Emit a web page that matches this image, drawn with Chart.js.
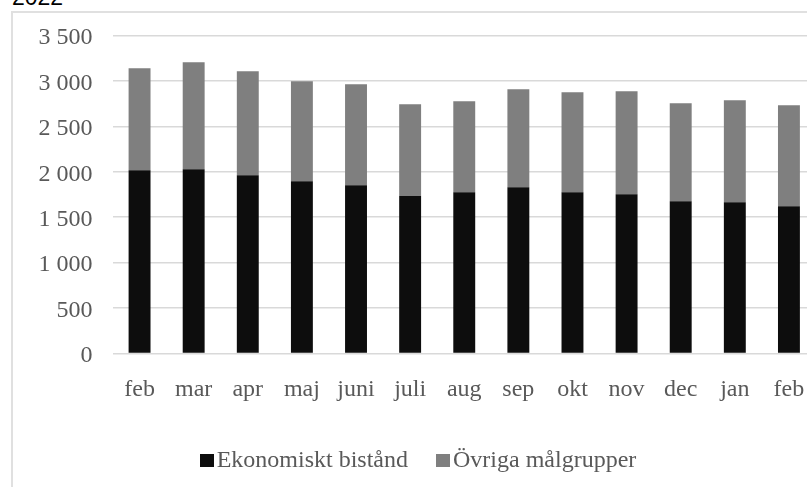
<!DOCTYPE html>
<html>
<head>
<meta charset="utf-8">
<script src="https://cdn.jsdelivr.net/npm/chart.js@4/dist/chart.umd.min.js"></script>
<style>
  html, body { margin: 0; padding: 0; background: #fff; overflow: hidden; width: 807px; height: 487px; }
  #frame { position: absolute; left: 11px; top: 11px; width: 900px; height: 600px; border-left: 2px solid #e0e0e0; border-top: 2px solid #e0e0e0; box-sizing: border-box; }
  #title { position: absolute; left: 12px; top: -14.5px; font-family: "Liberation Sans", Arial, sans-serif; font-size: 23px; line-height: 23px; color: #000; white-space: nowrap; }
  #wrap { position: absolute; left: 0; top: 0; width: 836px; height: 487px; }
  #legend { position: absolute; left: 0; top: 447px; width: 836px; text-align: center; font-family: "Liberation Serif", "Times New Roman", serif; font-size: 24px; line-height: 24px; color: #595959; white-space: nowrap; }
  .item { display: inline-block; margin: 0 14px; }
  .box { display: inline-block; width: 14px; height: 13px; margin-right: 3px; vertical-align: baseline; }
</style>
</head>
<body>
<div id="frame"></div>
<div id="title">2022</div>
<div id="wrap"><canvas id="c" width="836" height="487"></canvas></div>
<div id="legend"></div>
<script>
const categories = ["feb", "mar", "apr", "maj", "juni", "juli", "aug", "sep", "okt", "nov", "dec", "jan", "feb"];
const ekonomisktBistand = [2017, 2028, 1962, 1896, 1852, 1734, 1775, 1830, 1775, 1753, 1676, 1665, 1621];
const ovrigaMalgrupper = [1122, 1177, 1144, 1100, 1111, 1009, 1001, 1078, 1100, 1133, 1078, 1122, 1111];
const seriesNames = ["Ekonomiskt bistånd", "Övriga målgrupper"];
const seriesColors = ["#0d0d0d", "#7f7f7f"];
const yMin = 0, yMax = 3500, yStep = 500;

const serif = "'Liberation Serif', 'Times New Roman', serif";

const chart = new Chart(document.getElementById('c'), {
  type: 'bar',
  data: {
    labels: categories,
    datasets: [
      { label: seriesNames[0], data: ekonomisktBistand, backgroundColor: seriesColors[0], borderWidth: 0 },
      { label: seriesNames[1], data: ovrigaMalgrupper, backgroundColor: seriesColors[1], borderWidth: 0 }
    ]
  },
  options: {
    responsive: false,
    animation: false,
    events: [],
    layout: { padding: { left: 0, right: 20, top: 35.5, bottom: 0 } },
    datasets: { bar: { categoryPercentage: 1, barPercentage: 0.405 } },
    plugins: { legend: { display: false }, tooltip: { enabled: false }, title: { display: false } },
    scales: {
      x: {
        stacked: true,
        grid: { display: false, drawTicks: false },
        border: { display: false },
        ticks: { color: '#595959', font: { family: serif, size: 24 }, padding: 22, maxRotation: 0, autoSkip: false },
        afterFit: (s) => { s.height = 133.5; }
      },
      y: {
        stacked: true,
        min: yMin, max: yMax,
        grid: { color: '#d9d9d9', lineWidth: 1.5, drawTicks: false },
        border: { display: false },
        ticks: {
          stepSize: yStep,
          color: '#595959',
          font: { family: serif, size: 24 },
          padding: 20,
          labelOffset: 2.5,
          callback: (v) => String(v).replace(/\B(?=(\d{3})+(?!\d))/g, ' ')
        },
        afterFit: (s) => { s.width = 112.5; }
      }
    }
  }
});

const legend = document.getElementById('legend');
seriesNames.forEach((name, i) => {
  const item = document.createElement('span');
  item.className = 'item';
  const box = document.createElement('span');
  box.className = 'box';
  box.style.background = seriesColors[i];
  item.appendChild(box);
  item.appendChild(document.createTextNode(name));
  legend.appendChild(item);
});
</script>
</body>
</html>
